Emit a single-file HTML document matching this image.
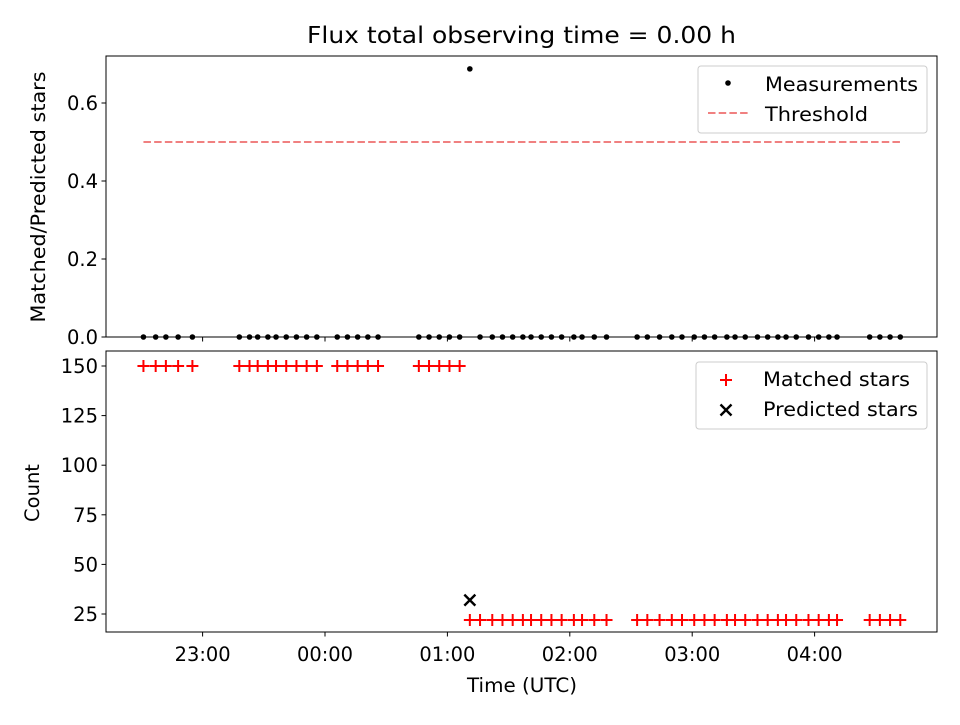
<!DOCTYPE html>
<html><head><meta charset="utf-8"><style>
body{margin:0;background:#fff}
svg{font-family:"DejaVu Sans","Liberation Sans",sans-serif}
</style></head><body>
<svg id="c" width="960" height="720" viewBox="0 0 960 720"></svg>
<script>
const times=[-89,-83,-78,-72,-65,-42,-37,-33,-28,-24,-19,-14,-9,-4,6,11,16,21,26,46,51,56,61,66,71,76,82,87,92,97,101,106,111,116,122,126,132,138,153,158,164,170,175,181,186,191,197,201,206,212,217,222,226,231,237,242,247,251,267,272,277,282];
const matched=[150,150,150,150,150,150,150,150,150,150,150,150,150,150,150,150,150,150,150,150,150,150,150,150,22,22,22,22,22,22,22,22,22,22,22,22,22,22,22,22,22,22,22,22,22,22,22,22,22,22,22,22,22,22,22,22,22,22,22,22,22,22];
const predicted=times.map((t,i)=>i===24?32:0);
const threshold=[0.5];
const xTickLabels=["23:00","00:00","01:00","02:00","03:00","04:00"];
const xTickVals=[-60,0,60,120,180,240];
const topTicks=[0.0,0.2,0.4,0.6];
const botTicks=[25,50,75,100,125,150];

const NS="http://www.w3.org/2000/svg";
const svg=document.getElementById('c');
const FS='font-size:19.5px';
function el(tag,attrs,parent,txt){const e=document.createElementNS(NS,tag);for(const k in attrs)e.setAttribute(k,attrs[k]);if(txt!==undefined)e.textContent=txt;(parent||svg).appendChild(e);return e;}
function txt(x,y,s,anchor,parent,len,extra){const a={x:x,y:y,'text-anchor':anchor,style:FS};if(len){a.textLength=len;a.lengthAdjust='spacingAndGlyphs';}if(extra)Object.assign(a,extra);return el('text',a,parent,s);}
const L=106,R=937;
const xs=t=>325+(t/60)*122.4;
const yTop=v=>337-v*390;
const yBot=v=>366+(150-v)*1.984;

const t=el('text',{x:521.5,y:43,'text-anchor':'middle',style:'font-size:23.5px',textLength:429,lengthAdjust:'spacingAndGlyphs'},svg,'Flux total observing time = 0.00 h');


function axes(y0,y1,name){
  const g=el('g',{});
  
  el('rect',{x:L,y:y0,width:R-L,height:y1-y0,fill:'none',stroke:'#000','stroke-width':1},g);
  xTickVals.forEach(v=>el('line',{x1:xs(v),x2:xs(v),y1:y1,y2:y1+4.5,stroke:'#000'},g));
  return g;
}
const gt=axes(56,337,'ratio-panel');
topTicks.forEach(v=>{el('line',{x1:L,x2:L-4.5,y1:yTop(v),y2:yTop(v),stroke:'#000'},gt);
  txt(L-8,yTop(v)+7,v.toFixed(1),'end',gt);});
const yl1=txt(0,0,'Matched/Predicted stars','middle',gt,251,{transform:'translate(45,197) rotate(-90)'});

const th=el('line',{x1:xs(times[0]),x2:xs(times[times.length-1]),y1:yTop(threshold[0]),y2:yTop(threshold[0]),stroke:'#f08080','stroke-width':2,'stroke-dasharray':'7.5,3.2'},gt);

times.forEach((tt,i)=>{const r=predicted[i]>0?matched[i]/predicted[i]:0;
  const c=el('circle',{cx:xs(tt),cy:yTop(r),r:2.8,fill:'#000'},gt);
  });
const lg1=el('g',{});
el('rect',{x:698,y:66,width:229,height:67,rx:3,fill:'#fff',stroke:'#ccc'},lg1);
el('circle',{cx:728,cy:83,r:2.8,fill:'#000'},lg1);
txt(765,91,'Measurements','start',lg1,153);
el('line',{x1:708,x2:748,y1:113,y2:113,stroke:'#f08080','stroke-width':2,'stroke-dasharray':'7.5,3.2'},lg1);
txt(765,121,'Threshold','start',lg1,103);

const gb=axes(351,632,'count-panel');
botTicks.forEach(v=>{el('line',{x1:L,x2:L-4.5,y1:yBot(v),y2:yBot(v),stroke:'#000'},gb);
  txt(L-8,yBot(v)+7,String(v),'end',gb);});
xTickVals.forEach((v,i)=>txt(xs(v),661,xTickLabels[i],'middle',gb,56));
const yl2=txt(0,0,'Count','middle',gb,null,{transform:'translate(39,493) rotate(-90)'});

const xl=txt(522,692,'Time (UTC)','middle',gb,110);

function plus(x,y,p){return el('path',{d:`M${x-6},${y}H${x+6}M${x},${y-6}V${y+6}`,stroke:'#f00','stroke-width':2,fill:'none'},p);}
function cross(x,y,p){return el('path',{d:`M${x-5.5},${y-5.5}L${x+5.5},${y+5.5}M${x-5.5},${y+5.5}L${x+5.5},${y-5.5}`,stroke:'#000','stroke-width':2.4,fill:'none'},p);}
times.forEach((tt,i)=>{const m=plus(xs(tt),yBot(matched[i]),gb);
  
  if(predicted[i]>0){const c=cross(xs(tt),yBot(predicted[i]),gb);
    }});
const lg2=el('g',{});
el('rect',{x:696,y:362,width:231,height:67,rx:3,fill:'#fff',stroke:'#ccc'},lg2);
plus(726,380,lg2);
txt(763,386,'Matched stars','start',lg2,147);
cross(726,410,lg2);
txt(763,416,'Predicted stars','start',lg2,155);
</script>
</body></html>
